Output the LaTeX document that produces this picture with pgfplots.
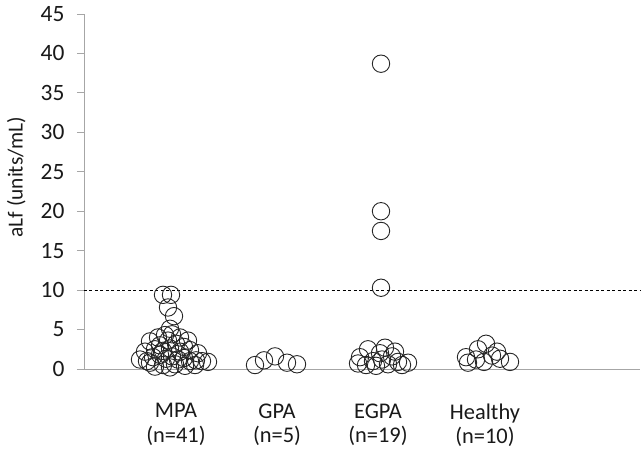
\documentclass[border=0pt]{standalone}
\usepackage{pgfplots}
\pgfplotsset{compat=1.18}
\usepackage{fontspec}
\setmainfont{Carlito}
\definecolor{axgray}{HTML}{A6A6A6}
\begin{document}
\begin{tikzpicture}
\useasboundingbox (-84bp,-84bp) rectangle (557bp,369bp);
\begin{axis}[
  at={(0,0)}, anchor=south west,
  scale only axis, width=556bp, height=355bp,
  xmin=84, xmax=640, ymin=0, ymax=45,
  axis x line*=bottom, axis y line*=left,
  axis line style={-, draw=axgray, line width=0.8bp},
  clip=false,
  ytick={0,5,...,45},
  yticklabels={0,5,10,15,20,25,30,35,40,45},
  xtick={176,277,378,485},
  xticklabels={{MPA\\(n=41)},{GPA\\(n=5)},{EGPA\\(n=19)},{Healthy\\(n=10)}},
  xticklabel style={font=\fontsize{22.5}{25}\selectfont, text=black!90, align=center, yshift=-24bp},
  yticklabel style={font=\fontsize{23.5}{25}\selectfont, text=black!90, xshift=-9bp},
  tick align=outside, major tick length=7bp,
  ytick style={draw=axgray, line width=0.8bp},
  xtick style={draw=none},
  ylabel={aLf (units/mL)},
  ylabel style={font=\fontsize{21.5}{25}\selectfont, text=black!90, at={(axis description cs:-0.122,0.541)}, anchor=center, rotate=0},
]
\addplot[black, line width=0.6bp, dash pattern=on 3bp off 2.5bp] coordinates {(84,10) (640,10)};
\addplot[only marks, mark=o, mark size=8.7bp, mark options={draw=black!85, line width=0.9bp}] table {
x y
163 9.4
171 9.4
168 7.8
174 6.7
170 5.1
150 3.5
158 4.0
165 4.3
172 4.4
180 4.0
188 3.6
160 3.0
176 3.2
184 2.8
168 3.6
140 1.2
147 1.0
153 1.5
160 1.8
166 1.3
172 1.6
178 1.2
184 1.4
190 1.0
196 1.1
202 1.0
208 0.9
145 2.2
155 2.5
163 2.3
170 2.6
180 2.2
190 2.4
198 2.0
155 0.3
163 0.5
175 0.6
185 0.4
195 0.5
170 0.2
150 0.8
};
\addplot[only marks, mark=o, mark size=8.7bp, mark options={draw=black!85, line width=0.9bp}] table {
x y
255 0.5
264 1.1
275 1.6
287 0.8
297 0.6
};
\addplot[only marks, mark=o, mark size=8.7bp, mark options={draw=black!85, line width=0.9bp}] table {
x y
381 38.7
381 20.0
381 17.5
381 10.3
358 0.7
360 1.5
366 0.5
368 2.5
373 1.0
376 0.4
380 2.0
382 1.2
385 2.7
388 0.6
392 1.6
395 2.2
398 0.9
402 0.5
408 0.8
};
\addplot[only marks, mark=o, mark size=8.7bp, mark options={draw=black!85, line width=0.9bp}] table {
x y
466 1.5
468 0.8
476 1.2
478 2.5
486 3.2
484 0.9
492 1.7
497 2.2
500 1.3
510 0.9
};
\end{axis}
\end{tikzpicture}
\end{document}
